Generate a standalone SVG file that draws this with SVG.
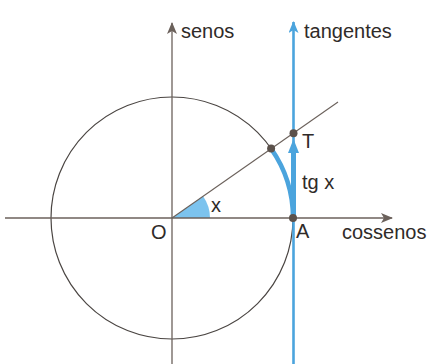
<svg xmlns="http://www.w3.org/2000/svg" width="430" height="364" viewBox="0 0 430 364">
<defs>
<style>
.axis{stroke:#6b615b;stroke-width:1.3;fill:none}
.circ{stroke:#4a4542;stroke-width:1.2;fill:none}
.blue{stroke:#4ba4dd;fill:none}
.lbl{font-family:"Liberation Sans",Arial,sans-serif;font-size:20px;fill:#2f2b29}
.dot{fill:#5b514b}
</style>
<marker id="ah" viewBox="0 0 12 10" refX="11" refY="5" markerWidth="12" markerHeight="10" markerUnits="userSpaceOnUse" orient="auto">
<path d="M0,0 L12,5 L0,10 L3,5 Z" fill="#6b615b"/>
</marker>
<marker id="ahb" viewBox="0 0 12 10" refX="11" refY="5" markerWidth="12" markerHeight="10" markerUnits="userSpaceOnUse" orient="auto">
<path d="M0,0 L12,5 L0,10 L3,5 Z" fill="#4ba4dd"/>
</marker>
</defs>
<rect width="430" height="364" fill="#ffffff"/>
<g id="circle">
<circle class="circ" cx="172" cy="218" r="121"/>
</g>
<g id="angle">
<path d="M172,218 L210,218 A38,38 0 0 0 203.1,196.2 Z" fill="#7cc3ee"/>
<text class="lbl" x="211" y="212">x</text>
</g>
<g id="connectors">
<line id="axis-cos" class="axis" x1="5" y1="218" x2="392" y2="218" marker-end="url(#ah)"/>
<line id="axis-sen" class="axis" x1="172" y1="364" x2="172" y2="23" marker-end="url(#ah)"/>
<line id="ray" x1="172" y1="218" x2="338" y2="102" stroke="#6b615b" stroke-width="1.1"/>
<line id="axis-tan" class="blue" x1="293.5" y1="364" x2="293.5" y2="22" stroke-width="2.6" marker-end="url(#ahb)"/>
<path id="arc-x" class="blue" d="M271.1,148.6 A121,121 0 0 1 293,218" stroke-width="4.5"/>
<line id="tgx" class="blue" x1="293.5" y1="218" x2="293.5" y2="150" stroke-width="5"/>
<polygon points="293.5,139 299,153 288,153" fill="#4ba4dd"/>
</g>
<g id="node-O"><text class="lbl" x="151" y="239">O</text></g>
<g id="node-A"><circle class="dot" cx="293" cy="218" r="4"/><text class="lbl" x="296" y="238">A</text></g>
<g id="node-P"><circle class="dot" cx="271.1" cy="148.6" r="4"/></g>
<g id="node-T"><circle class="dot" cx="293.5" cy="133.3" r="4"/><text class="lbl" x="302" y="148">T</text></g>
<g id="label-tgx"><text class="lbl" x="302" y="189">tg x</text></g>
<g id="label-senos"><text class="lbl" x="181" y="38">senos</text></g>
<g id="label-tangentes"><text class="lbl" x="304" y="38">tangentes</text></g>
<g id="label-cossenos"><text class="lbl" x="342" y="239">cossenos</text></g>
</svg>
